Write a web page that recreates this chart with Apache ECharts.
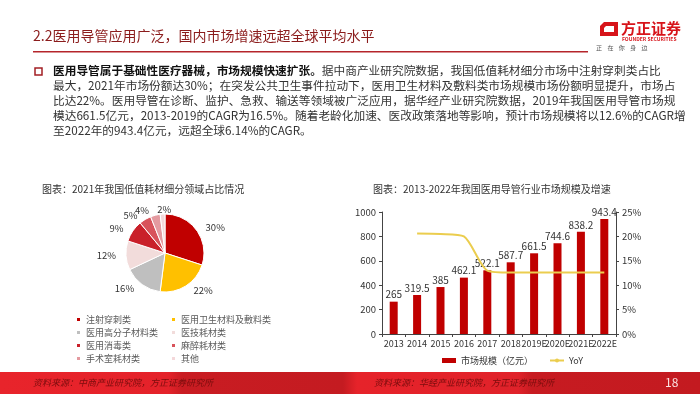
<!DOCTYPE html>
<html>
<head>
<meta charset="utf-8">
<script src="https://cdn.jsdelivr.net/npm/echarts@6/dist/echarts.min.js"></script>
<style>html,body{margin:0;padding:0;background:#fff}#c{width:700px;height:394px}</style>
</head>
<body>
<div id="c"></div>
<script>
// ---- data ----
const pieCategories = ['注射穿刺类','医用卫生材料及敷料类','医用高分子材料类','医技耗材类','医用消毒类','麻醉耗材类','手术室耗材类','其他'];
const pieValues = [30, 22, 16, 12, 9, 5, 4, 2];
const pieColors = ['#c00000','#ffc000','#bfbfbf','#f2dcdb','#c9202a','#d8535b','#e49aa0','#f4d8da'];
const years = ['2013','2014','2015','2016','2017','2018','2019E','2020E','2021E','2022E'];
const marketSize = [265, 319.5, 385, 462.1, 522.1, 587.7, 661.5, 744.6, 838.2, 943.4];
const yoy = [null, 20.6, 20.5, 20.0, 13.0, 12.6, 12.6, 12.6, 12.6, 12.6];
const leftTicks = [0, 200, 400, 600, 800, 1000];
const rightTicks = [0, 5, 10, 15, 20, 25];

const FONT = '"Noto Sans CJK SC", "Noto Sans", sans-serif';
const chart = echarts.init(document.getElementById('c'), null, {renderer: 'canvas'});

const bodyLines = [
  ['医用导管属于基础性医疗器械，市场规模快速扩张。', '据中商产业研究院数据，我国低值耗材细分市场中注射穿刺类占比'],
  ['', '最大，2021年市场份额达30%；在突发公共卫生事件拉动下，医用卫生材料及敷料类市场规模市场份额明显提升，市场占'],
  ['', '比达22%。医用导管在诊断、监护、急救、输送等领域被广泛应用，据华经产业研究院数据，2019年我国医用导管市场规'],
  ['', '模达661.5亿元，2013-2019的CAGR为16.5%。随着老龄化加速、医改政策落地等影响，预计市场规模将以12.6%的CAGR增'],
  ['', '至2022年的943.4亿元，远超全球6.14%的CAGR。']
];

const graphics = [];
// header
graphics.push({type:'text', left:33, top:29, style:{text:'2.2医用导管应用广泛，国内市场增速远超全球平均水平', font:'14px ' + FONT, fill:'#8b1c1c'}});
graphics.push({type:'rect', shape:{x:33, y:51, width:555, height:1.5}, style:{fill:'#b5252b'}});
// logo
graphics.push({type:'polygon', shape:{points:[[604,22],[618,22],[618,36],[600,36],[600,26]]}, style:{fill:'#d7141a'}});
graphics.push({type:'polygon', shape:{points:[[606,26],[614,26],[614,32],[604,32],[604,28]]}, style:{fill:'#fff'}});
graphics.push({type:'text', left:621, top:21, style:{text:'方正证券', font:'bold 15px ' + FONT, fill:'#d7141a'}});
graphics.push({type:'text', left:622, top:37, style:{text:'FOUNDER SECURITIES', font:'bold 5px ' + FONT, fill:'#d7141a'}});
graphics.push({type:'text', left:596, top:45, style:{text:'正    在    你    身    边', font:'6px ' + FONT, fill:'#555'}});
// bullet
graphics.push({type:'rect', shape:{x:35, y:68, width:7, height:7}, style:{fill:'#fff', stroke:'#a31f24', lineWidth:1.5}});
// body text
bodyLines.forEach((ln, i) => {
  graphics.push({type:'text', left:53, top:65 + i * 15, style:{
    text: (ln[0] ? '{b|' + ln[0] + '}' : '') + '{n|' + ln[1] + '}',
    rich:{b:{font:'bold 11.7px ' + FONT, fill:'#111'}, n:{font:'11.7px ' + FONT, fill:'#333'}}
  }});
});
// chart titles
graphics.push({type:'text', left:42, top:184, style:{text:'图表：2021年我国低值耗材细分领域占比情况', font:'10px ' + FONT, fill:'#333'}});
graphics.push({type:'text', left:373, top:184, style:{text:'图表：2013-2022年我国医用导管行业市场规模及增速', font:'10px ' + FONT, fill:'#333'}});
// footer
graphics.push({type:'rect', shape:{x:0, y:372, width:700, height:22}, style:{fill:new echarts.graphic.LinearGradient(0,0,1,0,[
  {offset:0, color:'#e8242b'},{offset:0.24, color:'#e4222a'},{offset:0.26, color:'#c91c22'},{offset:0.49, color:'#c41b21'},
  {offset:0.51, color:'#e6232a'},{offset:0.74, color:'#e0222a'},{offset:0.76, color:'#c71b21'},{offset:1, color:'#c31a20'}])}});
graphics.push({type:'text', left:33, top:378, style:{text:'资料来源：中商产业研究院，方正证券研究所', font:'italic 9px ' + FONT, fill:'#7a0d0d'}});
graphics.push({type:'text', left:374, top:378, style:{text:'资料来源：华经产业研究院，方正证券研究所', font:'italic 9px ' + FONT, fill:'#7a0d0d'}});
graphics.push({type:'text', left:665, top:376, style:{text:'18', font:'12px ' + FONT, fill:'#fbe3e3'}});

const legendText = {fontSize:9, color:'#595959', fontFamily:FONT, lineHeight:9};

const option = {
  animation:false,
  textStyle:{fontFamily:FONT},
  color: pieColors,
  graphic: graphics,
  legend:[
    {orient:'vertical', left:70, top:310, itemWidth:5, itemHeight:5, itemGap:4, icon:'rect', textStyle:legendText,
     data:[pieCategories[0], pieCategories[2], pieCategories[4], pieCategories[6]]},
    {orient:'vertical', left:165, top:310, itemWidth:5, itemHeight:5, itemGap:4, icon:'rect', textStyle:legendText,
     data:[pieCategories[1], pieCategories[3], pieCategories[5], pieCategories[7]]},
    {left:437, top:351, itemWidth:14, itemHeight:5, itemGap:16, textStyle:{fontSize:9, color:'#333', fontFamily:FONT},
     data:[{name:'市场规模（亿元）', icon:'rect'}, {name:'YoY'}]}
  ],
  grid:{left:382, right:84, top:212, bottom:60},
  xAxis:{type:'category', data:years, axisLine:{lineStyle:{color:'#444'}}, axisTick:{show:true, alignWithLabel:false, length:3, lineStyle:{color:'#444'}},
    axisLabel:{interval:0, fontSize:9, color:'#333', margin:5}},
  yAxis:[
    {type:'value', min:0, max:1000, interval:200, axisLine:{show:true, lineStyle:{color:'#444'}}, axisTick:{show:true, length:3},
     splitLine:{show:false}, axisLabel:{fontSize:9.5, color:'#333', margin:6, formatter:(v)=>String(v)}},
    {type:'value', min:0, max:25, interval:5, position:'right', axisLine:{show:true, lineStyle:{color:'#444'}}, axisTick:{show:true, length:3},
     splitLine:{show:false}, axisLabel:{fontSize:9.5, color:'#333', margin:6, formatter:'{value}%'}}
  ],
  series:[
    {name:'市场规模（亿元）', type:'bar', data:marketSize, barWidth:8, itemStyle:{color:'#c00000'},
     label:{show:true, position:'top', distance:2, fontSize:10, color:'#333'}},
    {name:'YoY', type:'line', yAxisIndex:1, data:yoy, symbol:'none', smooth:0.25, lineStyle:{color:'#ebcd4e', width:2}, itemStyle:{color:'#ebcd4e'}, z:5},
    {name:'pie', type:'pie', center:[165,253], radius:39, startAngle:90, clockwise:true, avoidLabelOverlap:false,
     data: pieCategories.map((n,i)=>({name:n, value:pieValues[i], itemStyle:{color:pieColors[i]}})),
     itemStyle:{borderColor:'#fff', borderWidth:1},
     label:{show:true, position:'outside', formatter:'{c}%', fontSize:9.5, color:'#333'},
     labelLine:{show:false, length:5, length2:0},
     labelLayout:function(p){ return p.dataIndex === 7 ? {align:'left', hideOverlap:false} : {hideOverlap:false}; }}
  ]
};
chart.setOption(option);
</script>
</body>
</html>
